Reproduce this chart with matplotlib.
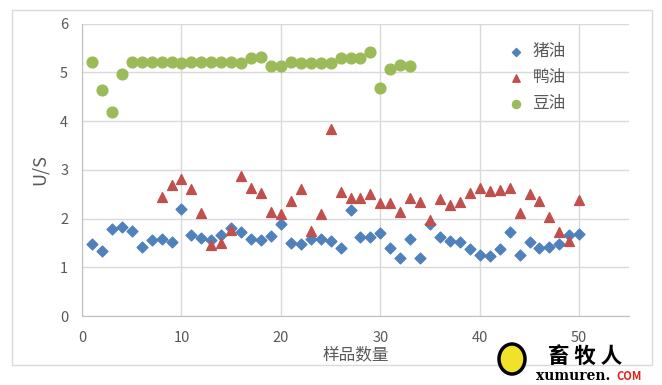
import matplotlib
matplotlib.use("Agg")
import matplotlib.pyplot as plt
from matplotlib.patches import Rectangle, Ellipse

plt.rcParams['font.family'] = ['Noto Sans CJK SC', 'DejaVu Sans']

# 猪油
lard_x = list(range(1, 51))
lard_y = [1.48, 1.34, 1.79, 1.82, 1.74, 1.42, 1.55, 1.57, 1.51, 2.19,
          1.66, 1.60, 1.56, 1.66, 1.80, 1.72, 1.58, 1.56, 1.65, 1.88,
          1.49, 1.47, 1.57, 1.58, 1.54, 1.40, 2.18, 1.62, 1.63, 1.71,
          1.40, 1.20, 1.57, 1.18, 1.88, 1.62, 1.53, 1.51, 1.37, 1.25,
          1.23, 1.38, 1.72, 1.25, 1.51, 1.40, 1.42, 1.47, 1.66, 1.68]

# 鸭油
duck_x = list(range(8, 51))
duck_y = [2.45, 2.69, 2.82, 2.61, 2.11, 1.46, 1.50, 1.77, 2.88, 2.62,
          2.53, 2.13, 2.10, 2.35, 2.61, 1.75, 2.09, 3.83, 2.54, 2.43,
          2.43, 2.50, 2.31, 2.31, 2.13, 2.43, 2.33, 1.97, 2.40, 2.28,
          2.33, 2.52, 2.62, 2.57, 2.59, 2.62, 2.11, 2.50, 2.35, 2.03,
          1.72, 1.53, 2.38]

# 豆油
soy_x = list(range(1, 34))
soy_y = [5.22, 4.63, 4.19, 4.96, 5.21, 5.21, 5.21, 5.21, 5.21, 5.19,
         5.22, 5.21, 5.21, 5.21, 5.21, 5.20, 5.30, 5.32, 5.12, 5.12,
         5.22, 5.19, 5.19, 5.19, 5.19, 5.30, 5.30, 5.30, 5.42, 4.67,
         5.07, 5.16, 5.12]

grey = '#595959'
fig = plt.figure(figsize=(6.62, 3.85), dpi=100)
ax = fig.add_axes([82 / 662, 1 - 316 / 385, 547 / 662, 292.4 / 385])

# chart frame
fig.patches.append(Rectangle((12 / 662, 1 - 365 / 385), 640 / 662, 355 / 385,
                             transform=fig.transFigure, fill=False,
                             edgecolor='#D9D9D9', linewidth=1))

ax.scatter(lard_x, lard_y, marker='D', s=30, color='#4F81BD', label='猪油', zorder=3)
ax.scatter(duck_x, duck_y, marker='^', s=50, color='#C0504D', label='鸭油', zorder=3)
ax.scatter(soy_x, soy_y, marker='o', s=60, color='#9BBB59', label='豆油', zorder=3)

ax.set_xlim(0, 55)
ax.set_ylim(0, 6)
ax.set_xticks([0, 10, 20, 30, 40, 50])
ax.set_yticks([0, 1, 2, 3, 4, 5, 6])
ax.grid(True, color='#D9D9D9', linewidth=1)
ax.set_axisbelow(True)
for s in ['top', 'right']:
    ax.spines[s].set_visible(False)
for s in ['left', 'bottom']:
    ax.spines[s].set_color('#BFBFBF')
ax.tick_params(axis='x', length=0, labelsize=10.5, colors=grey, pad=11)
ax.tick_params(axis='y', length=0, labelsize=10.5, colors=grey, pad=10)
ax.set_xlabel('样品数量', fontsize=12, color=grey, labelpad=1)
ax.set_ylabel('U/S', fontsize=13, color=grey, labelpad=8)

leg = ax.legend(loc='upper left', bbox_to_anchor=(0.735, 0.985), frameon=False,
                fontsize=12, handletextpad=0.0, labelspacing=0.55,
                markerscale=0.75, labelcolor=grey)

# watermark
fig.patches.append(Ellipse((512 / 662, 1 - 359 / 385), 26 / 662, 30 / 385,
                           transform=fig.transFigure, facecolor='#F2E12B',
                           edgecolor='black', linewidth=2.5))
fig.text(548 / 662, 1 - 356 / 385, '畜 牧 人', fontsize=15.5, fontweight='bold',
         color='black', ha='left', va='center')
fig.text(536 / 662, 1 - 376 / 385, 'xumuren.', fontsize=10, fontweight='bold',
         color='black', ha='left', va='center', family='DejaVu Serif')
fig.text(616 / 662, 1 - 376 / 385, 'COM', fontsize=8, fontweight='bold',
         color='#E0201B', ha='left', va='center')

fig.savefig('out.png', dpi=100)
